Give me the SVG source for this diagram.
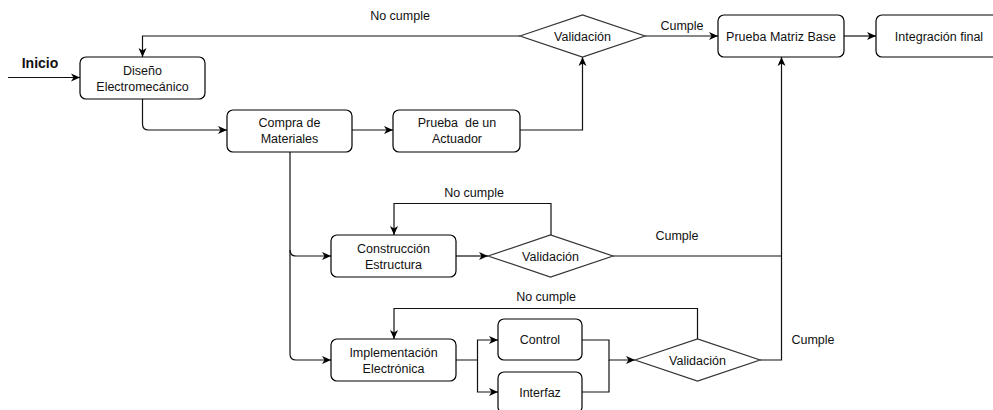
<svg xmlns="http://www.w3.org/2000/svg" width="993" height="410" viewBox="0 0 993 410">
<defs>
<marker id="arr" markerUnits="userSpaceOnUse" markerWidth="10" markerHeight="10" viewBox="0 0 10 10" refX="9" refY="5" orient="auto">
<path d="M0,1 L9,5 L0,9 L2.5,5 Z" fill="#000"/>
</marker>
<style>
.box{fill:#fff;stroke:#000;stroke-width:1.2}
.dia{fill:#fff;stroke:#333;stroke-width:1.2}
.ln{fill:none;stroke:#111;stroke-width:1.2}
.t{font-family:"Liberation Sans",Arial,sans-serif;font-size:12.5px;fill:#111;text-anchor:middle}
.b{font-family:"Liberation Sans",Arial,sans-serif;font-size:14px;font-weight:bold;fill:#111;text-anchor:middle}
</style>
</defs>
<rect width="993" height="410" fill="#fff"/>
<g id="connectors">
<path class="ln" d="M8,77.5 H80" marker-end="url(#arr)"/>
<path class="ln" d="M520,36 H142.5 V57" marker-end="url(#arr)"/>
<path class="ln" d="M142.5,99 V124 Q142.5,130 148.5,130 H227" marker-end="url(#arr)"/>
<path class="ln" d="M352,130 H393" marker-end="url(#arr)"/>
<path class="ln" d="M520,130 H582.5 V57" marker-end="url(#arr)"/>
<path class="ln" d="M645,36 H718" marker-end="url(#arr)"/>
<path class="ln" d="M844,36 H876" marker-end="url(#arr)"/>
<path class="ln" d="M290,152 V250 Q290,256 296,256 H331" marker-end="url(#arr)"/>
<path class="ln" d="M290,250 V354 Q290,360 296,360 H331" marker-end="url(#arr)"/>
<path class="ln" d="M456,256 H488" marker-end="url(#arr)"/>
<path class="ln" d="M551,235 V203.5 H394 V235" marker-end="url(#arr)"/>
<path class="ln" d="M613,256 H781"/>
<path class="ln" d="M456,360 H477.5 V340 H498" marker-end="url(#arr)"/>
<path class="ln" d="M477.5,360 V392 H498" marker-end="url(#arr)"/>
<path class="ln" d="M582,340 H609 V360 H635" marker-end="url(#arr)"/>
<path class="ln" d="M582,392 H609 V360"/>
<path class="ln" d="M697.5,339 V308.5 H394 V339" marker-end="url(#arr)"/>
<path class="ln" d="M760,360 H781.5 V57" marker-end="url(#arr)"/>
<text class="b" x="40" y="68">Inicio</text>
<text class="t" x="400" y="20">No cumple</text>
<text class="t" x="682" y="30">Cumple</text>
<text class="t" x="474" y="197">No cumple</text>
<text class="t" x="677" y="240">Cumple</text>
<text class="t" x="546" y="301">No cumple</text>
<text class="t" x="813" y="344">Cumple</text>
</g>
<g id="diseno"><rect class="box" x="80" y="57" width="125" height="42" rx="6"/><text class="t" x="142.5" y="75">Diseño</text><text class="t" x="142.5" y="90.5">Electromecánico</text></g>
<g id="compra"><rect class="box" x="227" y="110" width="125" height="42" rx="6"/><text class="t" x="289.5" y="127">Compra de</text><text class="t" x="289.5" y="142.5">Materiales</text></g>
<g id="prueba-actuador"><rect class="box" x="393" y="110" width="127" height="42" rx="6"/><text class="t" x="457" y="127" xml:space="preserve">Prueba  de un</text><text class="t" x="457" y="142.5">Actuador</text></g>
<g id="validacion1"><polygon class="dia" points="520,36 582.5,15 645,36 582.5,57"/><text class="t" x="582.5" y="40.5">Validación</text></g>
<g id="prueba-matriz"><rect class="box" x="718" y="15" width="126" height="42" rx="6"/><text class="t" x="781" y="40.5">Prueba Matriz Base</text></g>
<g id="integracion"><rect class="box" x="876" y="15" width="126" height="42" rx="6"/><text class="t" x="939" y="40.5">Integración final</text></g>
<g id="construccion"><rect class="box" x="331" y="235" width="125" height="42" rx="6"/><text class="t" x="393.5" y="253">Construcción</text><text class="t" x="393.5" y="268.5">Estructura</text></g>
<g id="validacion2"><polygon class="dia" points="488,256 550.5,235 613,256 550.5,277"/><text class="t" x="550.5" y="260.5">Validación</text></g>
<g id="implementacion"><rect class="box" x="331" y="339" width="125" height="42" rx="6"/><text class="t" x="393.5" y="357">Implementación</text><text class="t" x="393.5" y="372.5">Electrónica</text></g>
<g id="control"><rect class="box" x="498" y="319" width="84" height="41" rx="6"/><text class="t" x="540" y="344">Control</text></g>
<g id="interfaz"><rect class="box" x="498" y="372" width="84" height="41" rx="6"/><text class="t" x="540" y="397">Interfaz</text></g>
<g id="validacion3"><polygon class="dia" points="635,360 697.5,339 760,360 697.5,381"/><text class="t" x="697.5" y="364.5">Validación</text></g>
</svg>
